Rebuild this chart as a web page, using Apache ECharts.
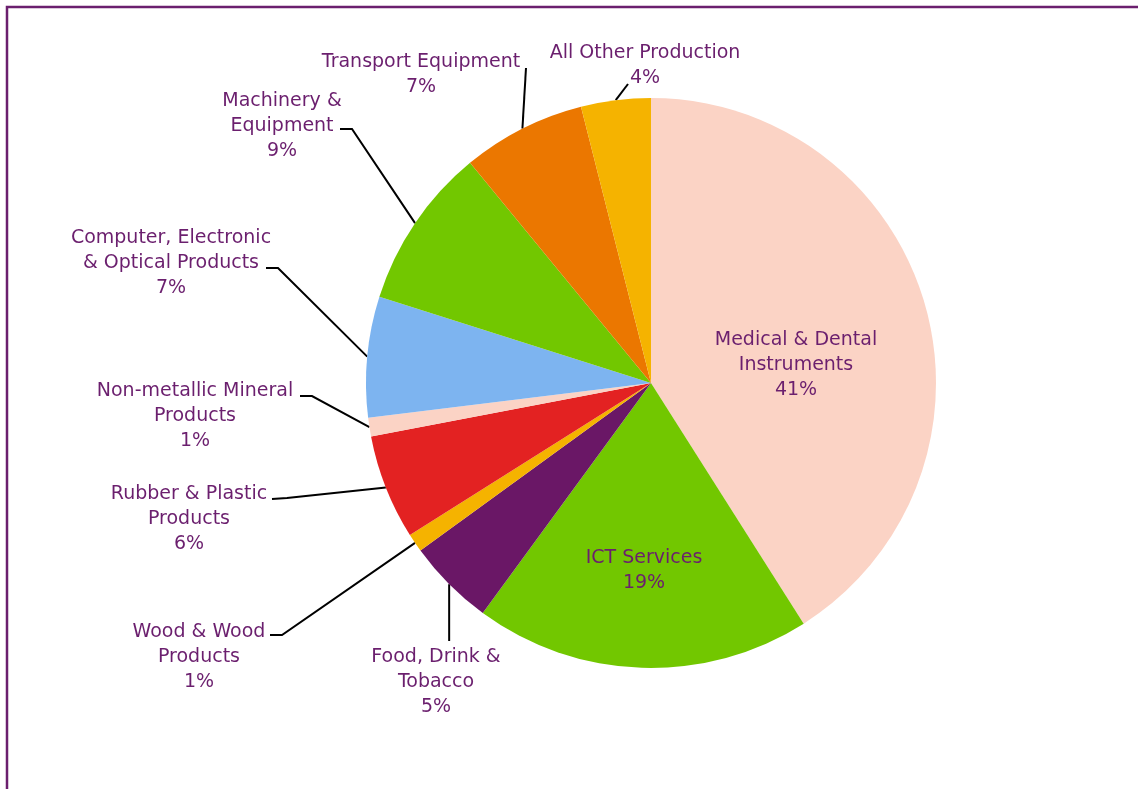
<!DOCTYPE html>
<html>
<head>
<meta charset="utf-8">
<script src="https://cdn.jsdelivr.net/npm/echarts@6/dist/echarts.min.js"></script>
<style>
html,body{margin:0;padding:0;background:#fff;}
#chart{width:1138px;height:789px;}
</style>
</head>
<body>
<div id="chart"></div>
<script>
// ---- data ----
const categories = [
  "Medical & Dental Instruments",
  "ICT Services",
  "Food, Drink & Tobacco",
  "Wood & Wood Products",
  "Rubber & Plastic Products",
  "Non-metallic Mineral Products",
  "Computer, Electronic & Optical Products",
  "Machinery & Equipment",
  "Transport Equipment",
  "All Other Production"
];
const shares = [41.0, 19.05, 4.95, 1.05, 5.95, 1.05, 6.85, 9.15, 7.0, 3.95];
const labelText = [
  "Medical & Dental\nInstruments",
  "ICT Services",
  "Food, Drink &\nTobacco",
  "Wood & Wood\nProducts",
  "Rubber & Plastic\nProducts",
  "Non-metallic Mineral\nProducts",
  "Computer, Electronic\n& Optical Products",
  "Machinery &\nEquipment",
  "Transport Equipment",
  "All Other Production"
];

// ---- styles / layout ----
const colors = ["#FBD3C5", "#72C700", "#6A1766", "#F5B300", "#E32222",
                "#FBD3C5", "#7DB4F0", "#72C700", "#EB7700", "#F5B300"];
const insideIdx = [0, 1];
// label block anchor (center x, top y)
const labelPos = [
  [796, 328], [644, 546], [436, 645], [199, 620], [189, 482],
  [195, 379], [171, 226], [282, 89], [421, 50], [645, 41]
];
// leader line bends/ends (after the pie-edge start point); null x = same x as start
const linePts = [
  null, null,
  [[null, 641]],
  [[282, 635], [270, 635]],
  [[287, 498], [272, 499]],
  [[312, 396], [300, 396]],
  [[278, 268], [266, 268]],
  [[352, 129], [340, 129]],
  [[526, 68]],
  [[628, 84]]
];
const textColor = "#6B1F6E";

const chart = echarts.init(document.getElementById('chart'), null, {renderer: 'canvas'});

const data = categories.map((c, i) => ({
  name: c,
  value: shares[i],
  itemStyle: {color: colors[i]},
  labelLine: {show: insideIdx.indexOf(i) < 0}
}));

chart.setOption({
  animation: false,
  graphic: [{
    type: 'rect',
    shape: {x: 7, y: 7, width: 1300, height: 1000},
    style: {fill: null, stroke: '#6B1F6E', lineWidth: 2.5},
    silent: true
  }],
  series: [{
    type: 'pie',
    center: [651, 383],
    radius: 285,
    startAngle: 90,
    clockwise: true,
    avoidLabelOverlap: false,
    silent: true,
    itemStyle: {borderWidth: 0},
    label: {
      show: true,
      position: 'outside',
      color: textColor,
      fontFamily: 'DejaVu Sans',
      fontSize: 19,
      lineHeight: 25,
      align: 'center',
      formatter: p => labelText[p.dataIndex] + "\n" + Math.round(p.value) + "%"
    },
    labelLine: {
      show: true,
      length: 20,
      length2: 10,
      lineStyle: {color: '#000', width: 2}
    },
    labelLayout: function (params) {
      const i = params.dataIndex;
      const out = {
        x: labelPos[i][0],
        y: labelPos[i][1],
        align: 'center',
        verticalAlign: 'top'
      };
      if (linePts[i] && params.labelLinePoints) {
        const p0 = params.labelLinePoints[0];
        out.labelLinePoints = [p0].concat(linePts[i].map(q => [q[0] == null ? p0[0] : q[0], q[1]]));
      }
      return out;
    },
    data: data
  }]
});
</script>
</body>
</html>
